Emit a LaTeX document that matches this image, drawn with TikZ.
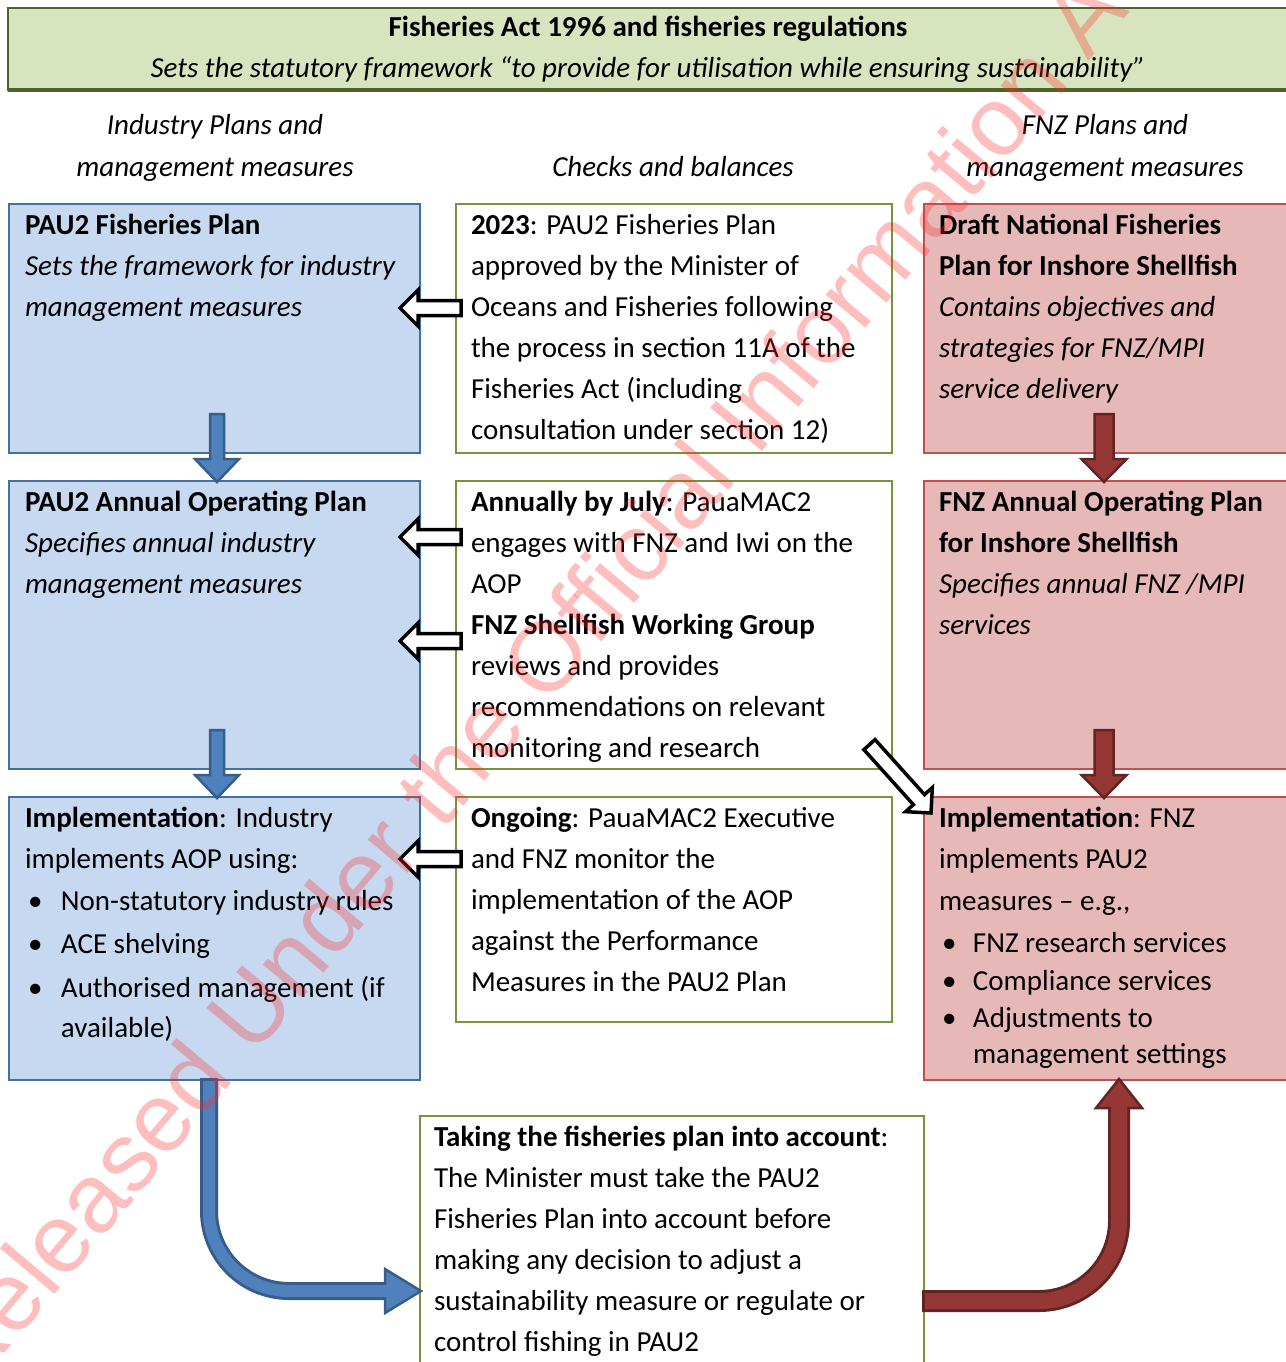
\documentclass[tikz,border=0pt]{standalone}
\usepackage{fontspec}
\setmainfont{Carlito}
\newfontfamily\wmfont{Liberation Sans}
\usetikzlibrary{calc}
\definecolor{grfill}{HTML}{D7E4BD}
\definecolor{grdraw}{HTML}{4F6228}
\definecolor{blfill}{HTML}{C6D9F1}
\definecolor{bldraw}{HTML}{41719C}
\definecolor{olivedraw}{HTML}{77933C}
\definecolor{rdfill}{HTML}{E6B9B8}
\definecolor{rddraw}{HTML}{C0504D}
\definecolor{barfill}{HTML}{4F81BD}
\definecolor{bardraw}{HTML}{385D8A}
\definecolor{rarfill}{HTML}{953735}
\definecolor{rardraw}{HTML}{632523}
\definecolor{wmcol}{HTML}{FF2A2A}
\tikzset{
  box/.style={rectangle, inner sep=0pt, outer sep=0pt, line width=2pt, anchor=north west},
  lbox/.style={box, fill=blfill, draw=bldraw},
  mbox/.style={box, fill=white, draw=olivedraw, line width=1.6pt},
  rbox/.style={box, fill=rdfill, draw=rddraw},
  txt/.style={inner sep=0pt, outer sep=0pt, anchor=north west, align=left, font=\fontsize{29}{41}\selectfont},
  ctxt/.style={txt, anchor=north, align=center},
  hollowarr/.style={draw=black, fill=white, line width=3.5pt, line join=miter},
  bluearr/.style={fill=barfill, draw=bardraw, line width=2.5pt, line join=miter},
  redarr/.style={fill=rarfill, draw=rardraw, line width=2.5pt, line join=miter},
}
\newcommand\hollowarrow[3]{\begin{scope}[shift={(#1)},rotate=#2]
  \draw[hollowarr] (0,0) -- (-18,-18) -- (-18,-7.5) -- (-#3,-7.5) -- (-#3,7.5) -- (-18,7.5) -- (-18,18) -- cycle;
\end{scope}}
\newcommand\blockdown[4]{\begin{scope}[shift={(#1)}]
  \draw[#2] (0,0) -- (-#4,-23) -- (-#3,-23) -- (-#3,-68) -- (#3,-68) -- (#3,-23) -- (#4,-23) -- cycle;
\end{scope}}
\begin{document}
\begin{tikzpicture}[x=1pt,y=-1pt]
\useasboundingbox (0,0) rectangle (1285,1362);
\fill[white] (0,0) rectangle (1285,1362);

% header
\node[box, fill=grfill, draw=grdraw, minimum width=1290, minimum height=82] (hdr) at (8,8) {};
\draw[grdraw, line width=3.5pt] (hdr.south west) -- (hdr.south east);
\node[ctxt] (hdrt) at (648,8) {\strut\textbf{Fisheries Act 1996 and fisheries regulations}\\
\textit{Sets the statutory framework “to provide for utilisation while ensuring sustainability”}};

% column headings
\node[ctxt] (ch1) at (215,106) {\strut\textit{Industry Plans and}\\[1pt]\textit{management measures}};
\node[ctxt] (ch2) at (673,148) {\strut\textit{Checks and balances}};
\node[ctxt] (ch3) at (1105,106) {\strut\textit{FNZ Plans and}\\[1pt]\textit{management measures}};

% left column
\node[lbox, minimum width=411, minimum height=249] (l1) at (9,204) {};
\node[lbox, minimum width=411, minimum height=288] (l2) at (9,481) {};
\node[lbox, minimum width=411, minimum height=283] (l3) at (9,797) {};
% middle column
\node[mbox, minimum width=436, minimum height=249] (m1) at (456,204) {};
\node[mbox, minimum width=436, minimum height=288] (m2) at (456,481) {};
\node[mbox, minimum width=436, minimum height=225] (m3) at (456,797) {};
% right column
\node[rbox, minimum width=372, minimum height=249] (r1) at (924,204) {};
\node[rbox, minimum width=372, minimum height=288] (r2) at (924,481) {};
\node[rbox, minimum width=372, minimum height=283] (r3) at (924,797) {};
% bottom box
\node[mbox, minimum width=504, minimum height=260] (bt) at (420,1116) {};

% texts
\node[txt] (l1t) at ($(l1.north west)+(16,2)$) {\strut\textbf{PAU2 Fisheries Plan}\\
\textit{Sets the framework for industry}\\
\textit{management measures}};
\node[txt] (l2t) at ($(l2.north west)+(16,2)$) {\strut\textbf{PAU2 Annual Operating Plan}\\
\textit{Specifies annual industry}\\
\textit{management measures}};
\node[txt] (l3t) at ($(l3.north west)+(16,2)$) {\strut\textbf{Implementation}: Industry\\
implements AOP using:\\[1pt]
\makebox[36pt][l]{\hspace{3pt}\textbullet}Non-statutory industry rules\\[2pt]
\makebox[36pt][l]{\hspace{3pt}\textbullet}ACE shelving\\[3pt]
\makebox[36pt][l]{\hspace{3pt}\textbullet}Authorised management (if\\[-1pt]
\hspace*{36pt}available)};

\node[txt] (m1t) at ($(m1.north west)+(15,2)$) {\strut\textbf{2023}: PAU2 Fisheries Plan\\
approved by the Minister of\\
Oceans and Fisheries following\\
the process in section 11A of the\\
Fisheries Act (including\\
consultation under section 12)};
\node[txt] (m2t) at ($(m2.north west)+(15,2)$) {\strut\textbf{Annually by July}: PauaMAC2\\
engages with FNZ and Iwi on the\\
AOP\\
\textbf{FNZ Shellfish Working Group}\\
reviews and provides\\
recommendations on relevant\\
monitoring and research};
\node[txt] (m3t) at ($(m3.north west)+(15,2)$) {\strut\textbf{Ongoing}: PauaMAC2 Executive\\
and FNZ monitor the\\
implementation of the AOP\\
against the Performance\\
Measures in the PAU2 Plan};

\node[txt] (r1t) at ($(r1.north west)+(15,2)$) {\strut\textbf{Draft National Fisheries}\\
\textbf{Plan for Inshore Shellfish}\\
\textit{Contains objectives and}\\
\textit{strategies for FNZ/MPI}\\
\textit{service delivery}};
\node[txt] (r2t) at ($(r2.north west)+(15,2)$) {\strut\textbf{FNZ Annual Operating Plan}\\
\textbf{for Inshore Shellfish}\\
\textit{Specifies annual FNZ /MPI}\\
\textit{services}};
\node[txt] (r3t) at ($(r3.north west)+(15,2)$) {\strut\textbf{Implementation}: FNZ\\
implements PAU2\\[1pt]
measures – e.g.,\\[1pt]
\makebox[34pt][l]{\hspace{3pt}\textbullet}FNZ research services\\[-3pt]
\makebox[34pt][l]{\hspace{3pt}\textbullet}Compliance services\\[-4pt]
\makebox[34pt][l]{\hspace{3pt}\textbullet}Adjustments to\\[-5pt]
\hspace*{34pt}management settings};

\node[txt] (btt) at ($(bt.north west)+(14,2)$) {\strut\textbf{Taking the fisheries plan into account}:\\
The Minister must take the PAU2\\
Fisheries Plan into account before\\
making any decision to adjust a\\
sustainability measure or regulate or\\
control fishing in PAU2};

% hollow arrows (from checks to industry plans)
\coordinate (h1) at ($(l1.north east)+(-20,104)$);
\coordinate (h2) at ($(l2.north east)+(-20,56)$);
\coordinate (h3) at ($(l2.north east)+(-20,160)$);
\coordinate (h4) at ($(l3.north east)+(-20,62)$);
\hollowarrow{h1}{180}{61}
\hollowarrow{h2}{180}{61}
\hollowarrow{h3}{180}{61}
\hollowarrow{h4}{180}{61}
\coordinate (h5) at ($(r3.north west)+(7,16)$);
\hollowarrow{h5}{-48}{92}

% block down arrows
\coordinate (bd1) at ($(l2.north west)+(208,1)$);
\coordinate (bd2) at ($(l3.north west)+(208,1)$);
\coordinate (rd1) at ($(r2.north west)+(180,1)$);
\coordinate (rd2) at ($(r3.north west)+(180,1)$);
\blockdown{bd1}{bluearr}{7}{22}
\blockdown{bd2}{bluearr}{7}{22}
\blockdown{rd1}{redarr}{9.5}{22.5}
\blockdown{rd2}{redarr}{9.5}{22.5}

% curved blue arrow: industry implementation -> bottom box
\coordinate (cb0) at ($(l3.south west)+(200,-2)$);
\coordinate (cbt) at ($(bt.west)+(1,0)$);
\coordinate (cbt) at (cbt |- 0,1291);
\draw[bardraw, line width=18pt, rounded corners=80pt] (cb0) |- ($(cbt)+(-36,0)$);
\draw[bluearr] (cbt) -- ++(-36,-22) -- ++(0,44) -- cycle;
\draw[barfill, line width=12pt, rounded corners=80pt] ($(cb0)+(0,3)$) |- ($(cbt)+(-29,0)$);

% curved red arrow: bottom box -> FNZ implementation
\coordinate (cr0) at ($(bt.north east)+(-2,185)$);
\coordinate (crt) at ($(r3.south west)+(195,-1)$);
\draw[rardraw, line width=22pt, rounded corners=80pt] (cr0) -| ($(crt)+(0,29)$);
\draw[redarr] (crt) -- ++(-23,29) -- ++(46,0) -- cycle;
\draw[rarfill, line width=16pt, rounded corners=80pt] ($(cr0)+(3,0)$) -| ($(crt)+(0,22)$);

% watermark
\begin{scope}
\clip (0,0) rectangle (1285,1362);
\node[rotate=50, text=wmcol, opacity=0.3, font=\fontsize{98}{98}\wmfont, inner sep=0pt] (wm) at (548,652) {Released Under the Official Information Act};
\end{scope}
\end{tikzpicture}
\end{document}
